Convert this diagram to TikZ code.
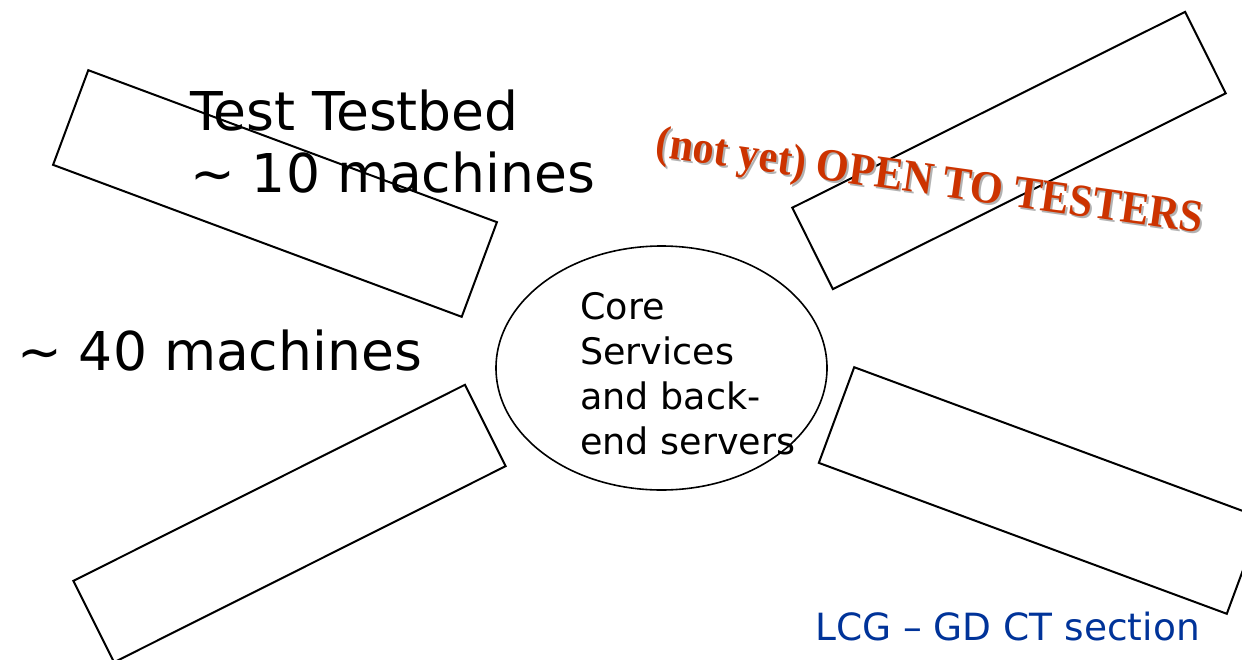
\documentclass[tikz,border=0pt]{standalone}
\usepackage{fontspec}
\setmainfont{DejaVu Sans}
\newfontfamily\timesbf[FakeStretch=0.92]{Liberation Serif}
\usetikzlibrary{shapes.geometric}
\definecolor{warnred}{RGB}{204,51,0}
\definecolor{footblue}{RGB}{0,51,153}

\begin{document}
\begin{tikzpicture}[x=1pt,y=-1pt]
	\tikzstyle{every node}+=[inner sep=0pt]
	\tikzstyle{slab}=[draw=black, line width=2pt, rectangle]
	\tikzstyle{big}=[font=\fontsize{53.5}{62}\selectfont, align=left]
	\tikzstyle{warn}=[anchor=base, rotate=-8, font=\timesbf\bfseries\fontsize{46}{50}\selectfont]
	\useasboundingbox (0,0) rectangle (1242,659);
	% the four testbed slabs
	\node [slab, minimum width=436, minimum height=101, rotate=-20.4] (tl) at (275,193.5) {};
	\node [slab, minimum width=439, minimum height=91, rotate=26.5] (tr) at (1009,150.5) {};
	\node [slab, minimum width=438, minimum height=91, rotate=26.6] (bl) at (289.5,523.5) {};
	\node [slab, minimum width=435, minimum height=102, rotate=-20.3] (br) at (1040.5,490.5) {};
	% core services
	\node [draw=black, line width=1.6pt, ellipse, minimum width=331, minimum height=244] (core) at (661.5,368) {};
	\node [anchor=north west, align=left, font=\fontsize{36.5}{45}\selectfont] (coretxt) at (580,292) {Core\\Services\\and back-\\end servers};
	% labels
	\node [big, anchor=north west] (test) at (190,90) {Test Testbed\\\textasciitilde{} 10 machines};
	\node [big, anchor=base west] (forty) at (17,370) {\textasciitilde{} 40 machines};
	\node [warn, text=black!30] (opensh) at (929.5,196.5) {(not yet) OPEN TO TESTERS};
	\node [warn, text=warnred] (open) at (927.5,194.5) {(not yet) OPEN TO TESTERS};
	\node [anchor=base west, text=footblue, font=\fontsize{37.5}{44}\selectfont] (foot) at (815,640) {LCG – GD CT section};
\end{tikzpicture}
\end{document}
